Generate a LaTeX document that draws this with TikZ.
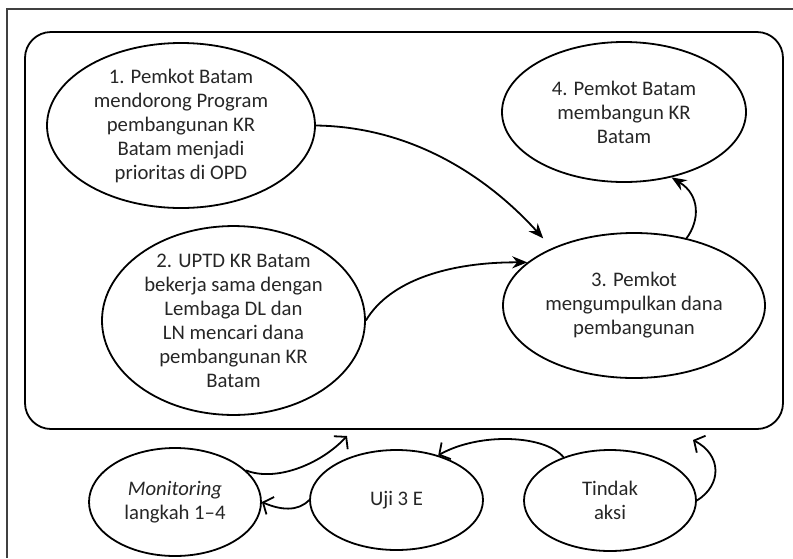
\documentclass[tikz,border=0pt]{standalone}
\usepackage{fontspec}
\setmainfont{Carlito}
\usetikzlibrary{shapes.geometric,arrows.meta}
\tikzset{
  bub/.style={draw, ellipse, line width=1.8pt, inner sep=0pt, align=center,
    font=\fontsize{20.7}{24}\selectfont, text=black!85},
  fillarrow/.style={line width=1.8pt, -{Stealth[length=15pt,width=12pt]}},
  openarrow/.style={line width=1.8pt, -{Straight Barb[length=8pt,width=19pt,line width=1.8pt]}},
}
\begin{document}
\begin{tikzpicture}[x=1pt,y=-1pt]
\useasboundingbox (0,0) rectangle (793,558);
% outer frame (partly visible)
\draw[line width=1.1pt, black!75] (793,9) -- (7,9) -- (7,558);
% inner rounded frame
\node[draw, line width=1.8pt, rounded corners=26pt, minimum width=758pt, minimum height=397pt, inner sep=0pt] (frame) at (404,230.5) {};
% top ellipses
\node[bub, minimum width=268pt, minimum height=165pt] (e1) at (181,125.5)
  {1. Pemkot Batam\\mendorong Program\\pembangunan KR\\Batam menjadi\\prioritas di OPD};
\node[bub, minimum width=244pt, minimum height=140pt] (e4) at (624,112)
  {4. Pemkot Batam\\membangun KR\\Batam};
\node[bub, minimum width=263pt, minimum height=186pt] (e2) at (233.5,320.5)
  {2. UPTD KR Batam\\bekerja sama dengan\\Lembaga DL dan\\LN mencari dana\\pembangunan KR\\Batam};
\node[bub, minimum width=262pt, minimum height=145pt] (e3) at (634,305.5)
  {3. Pemkot\\mengumpulkan dana\\pembangunan};
% bottom ellipses
\node[bub, minimum width=172pt, minimum height=108pt] (em) at (175,502)
  {\textit{Monitoring}\\langkah 1--4};
\node[bub, minimum width=173pt, minimum height=100pt] (eu) at (396.5,500)
  {Uji 3 E};
\node[bub, minimum width=172pt, minimum height=101pt] (et) at (610,500.5)
  {Tindak\\aksi};
% free ends on the frame's lower edge
\coordinate (f1) at (347,436);
\coordinate (f2) at (693,440);
% connectors inside frame
\draw[fillarrow, shorten >=13pt] (e1.east) .. controls (420,127) and (495,185) .. (e3.145);
\draw[fillarrow] (e2.east) .. controls (390,280) and (450,262) .. (e3.158);
\draw[fillarrow] (e3.52) .. controls (700,220) and (700,195) .. (e4.-54);
% bottom connectors
\draw[openarrow] (em.24) .. controls (275,482) and (320,465) .. (f1);
\draw[openarrow] (eu.west) .. controls (298,512) and (280,510) .. (em.east);
\draw[openarrow] (et.137) .. controls (545,435) and (480,432) .. (eu.47);
\draw[openarrow] (et.east) .. controls (722,485) and (722,455) .. (f2);
\end{tikzpicture}
\end{document}
